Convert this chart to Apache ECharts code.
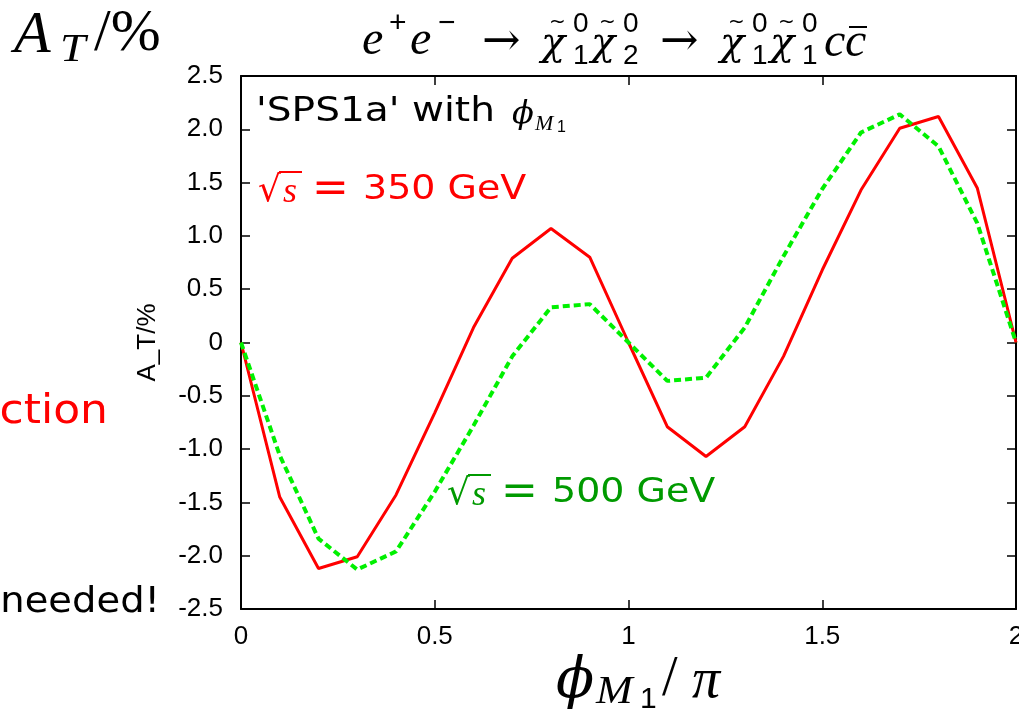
<!DOCTYPE html>
<html>
<head>
<meta charset="utf-8">
<script src="https://cdn.jsdelivr.net/npm/echarts@6/dist/echarts.min.js"></script>
<style>
html, body { margin: 0; padding: 0; background: #fff; }
#chart { width: 1019px; height: 712px; }
</style>
</head>
<body>
<div id="chart"></div>
<script>
// phi_M1 / pi
const phi = [0, 0.1, 0.2, 0.3, 0.4, 0.5, 0.6, 0.7, 0.8, 0.9, 1.0, 1.1, 1.2, 1.3, 1.4, 1.5, 1.6, 1.7, 1.8, 1.9, 2.0]
// A_T in %, sqrt(s) = 350 GeV
const at350 = [0, -1.45, -2.12, -2.01, -1.43, -0.66, 0.14, 0.79, 1.07, 0.80, 0.00, -0.79, -1.07, -0.79, -0.13, 0.68, 1.43, 2.01, 2.12, 1.45, 0]
// A_T in %, sqrt(s) = 500 GeV
const at500 = [0, -1.06, -1.84, -2.13, -1.96, -1.40, -0.78, -0.13, 0.33, 0.36, 0.00, -0.36, -0.33, 0.14, 0.81, 1.44, 1.97, 2.14, 1.84, 1.12, 0]

const SERIF = 'Liberation Serif'
const SANS = 'Liberation Sans'
const DSANS = 'DejaVu Sans'
const DSERIF = 'DejaVu Serif'

// little text helper for the formula pieces
const t = (text, x, y, size, opt) => {
	opt = opt || {}
	return {
		type: 'text',
		x: x,
		y: y,
		scaleX: opt.sx || 1,
		silent: true,
		style: {
			text: text,
			fontSize: size,
			fontFamily: opt.family || SERIF,
			fontStyle: opt.italic ? 'italic' : 'normal',
			fill: opt.color || '#000',
			textAlign: opt.align || 'left',
			textVerticalAlign: 'middle'
		}
	}
}
const bar = (x1, x2, y, color) => ({
	type: 'line',
	silent: true,
	shape: { x1: x1, y1: y, x2: x2, y2: y },
	style: { stroke: color || '#000', lineWidth: 2 }
})
// chi with a tilde on top
const chiT = (x, y) => [
	t('\u03C7', x, y, 40, { italic: true, family: DSERIF }),
	t('~', x + 8, y - 22, 20, { family: DSANS })
]

const sqrtLabel = (x, y, value, color) => [
	t('\u221A', x, y + 2, 36, { color: color, family: DSERIF }),
	bar(x + 21, x + 44, y - 18, color),
	t('s', x + 25, y + 3, 36, { italic: true, color: color }),
	t('=', x + 54, y + 1, 44, { color: color, family: DSERIF }),
	t(value + ' GeV', x + 105, y, 33, { color: color, family: DSANS, sx: 1.15 })
]

const graphics = [
	// A_T/% top left
	t('A', 14, 36, 60, { italic: true }),
	t('T', 60, 50, 40, { italic: true, sx: 1.15 }),
	t('/%', 94, 34, 60, { family: SERIF }),
	// process title
	t('e', 362, 41, 48, { italic: true }),
	t('+', 389, 24, 30, { family: SANS }),
	t('e', 410, 41, 48, { italic: true }),
	t('\u2212', 438, 24, 30, { family: SANS }),
	t('\u2192', 482, 43, 46, { family: DSERIF }),
	...chiT(541, 45),
	t('0', 573, 24, 28, { family: SANS }),
	t('1', 573, 56, 28, { family: SANS }),
	...chiT(591, 45),
	t('0', 623, 24, 28, { family: SANS }),
	t('2', 623, 56, 28, { family: SANS }),
	t('\u2192', 660, 43, 46, { family: DSERIF }),
	...chiT(720, 45),
	t('0', 752, 24, 28, { family: SANS }),
	t('1', 752, 56, 28, { family: SANS }),
	...chiT(770, 45),
	t('0', 802, 24, 28, { family: SANS }),
	t('1', 802, 56, 28, { family: SANS }),
	t('c', 824, 43, 48, { italic: true }),
	t('c', 845, 43, 48, { italic: true }),
	bar(849, 867, 27, '#000'),
	// x axis name
	t('\u03D5', 556, 682, 56, { italic: true, family: DSERIF }),
	t('M', 596, 692, 40, { italic: true, sx: 1.1 }),
	t('1', 640, 700, 30, { family: SANS }),
	t('/', 662, 680, 56, { family: SERIF }),
	t('\u03C0', 692, 682, 56, { italic: true }),
	// labels inside the frame
	t("'SPS1a' with", 256, 112, 34, { family: DSANS, sx: 1.15 }),
	t('\u03D5', 512, 115, 32, { italic: true, family: DSERIF }),
	t('M', 535, 124, 22, { italic: true }),
	t('1', 557, 128, 16, { family: SANS }),
	...sqrtLabel(258, 190, '350', '#ff0000'),
	...sqrtLabel(447, 493, '500', '#009a00'),
	// clipped text to the left
	t('ction', 108, 413, 40, { family: DSANS, color: '#ff0000', align: 'right', sx: 1.1 }),
	t('needed!', 160, 603, 35, { family: DSANS, align: 'right', sx: 1.1 })
]

const axisCommon = {
	min: 0,
	max: 2,
	interval: 0.5,
	axisLine: { show: true, onZero: false, lineStyle: { color: '#000', width: 2 } },
	axisTick: { show: true, inside: true, length: 9, lineStyle: { color: '#000', width: 1.5 } },
	splitLine: { show: false }
}

const option = {
	backgroundColor: '#fff',
	animation: false,
	grid: { left: 241, right: 3, top: 76, bottom: 103, containLabel: false, outerBoundsMode: 'none' },
	xAxis: [
		Object.assign({ type: 'value', position: 'bottom' }, axisCommon, {
			axisLabel: { fontSize: 26, color: '#000', fontFamily: SANS, margin: 15 }
		}),
		Object.assign({ type: 'value', position: 'top' }, axisCommon, {
			axisLabel: { show: false }
		})
	],
	yAxis: [
		Object.assign({ type: 'value', position: 'left' }, axisCommon, {
			min: -2.5,
			max: 2.5,
			name: 'A_T/%',
			nameLocation: 'middle',
			nameGap: 80,
			nameTextStyle: { fontSize: 26, color: '#000', fontFamily: SANS },
			axisLabel: {
				fontSize: 26,
				color: '#000',
				fontFamily: SANS,
				margin: 18,
				formatter: (v) => (v === 0 ? '0' : v.toFixed(1))
			}
		}),
		Object.assign({ type: 'value', position: 'right' }, axisCommon, {
			min: -2.5,
			max: 2.5,
			axisLabel: { show: false }
		})
	],
	graphic: graphics,
	series: [
		{
			name: '350 GeV',
			type: 'line',
			xAxisIndex: 0,
			yAxisIndex: 0,
			showSymbol: false,
			lineStyle: { color: '#ff0000', width: 3 },
			data: phi.map((x, i) => [x, at350[i]])
		},
		{
			name: '500 GeV',
			type: 'line',
			xAxisIndex: 0,
			yAxisIndex: 0,
			showSymbol: false,
			lineStyle: { color: '#00f000', width: 4, type: [7, 4] },
			data: phi.map((x, i) => [x, at500[i]])
		}
	]
}

const myChart = echarts.init(document.getElementById('chart'))
myChart.setOption(option)
</script>
</body>
</html>
